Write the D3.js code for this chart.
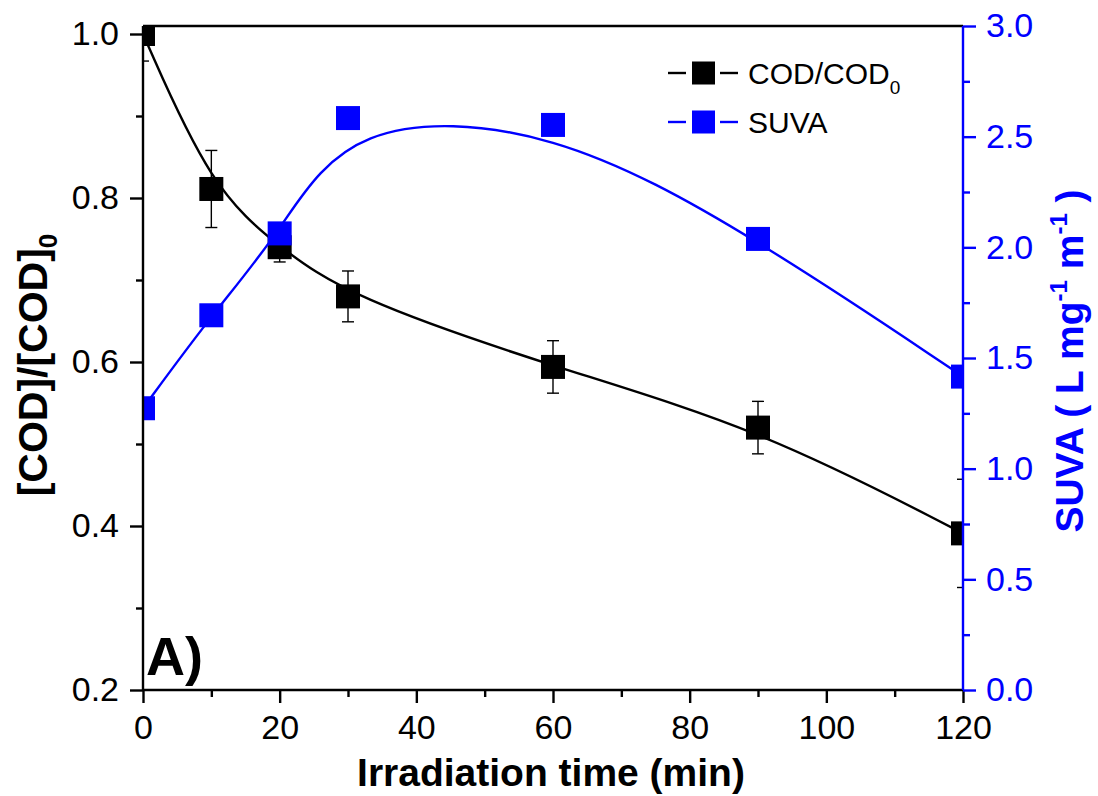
<!DOCTYPE html>
<html>
<head>
<meta charset="utf-8">
<script src="https://cdn.jsdelivr.net/npm/d3@7"></script>
<style>
  body { margin: 0; background: #fff; }
  svg { display: block; font-family: "Liberation Sans", Arial, sans-serif; }
</style>
</head>
<body>
<svg id="chart" width="1098" height="796"></svg>
<script>
// data
const times = [0, 10, 20, 30, 60, 90, 120];
const codRatio = [1.0, 0.811, 0.740, 0.680, 0.594, 0.520, 0.391];
const codErr = [0.033, 0.047, 0.018, 0.031, 0.032, 0.032, 0.066];
const suva = [1.273, 1.693, 2.063, 2.584, 2.553, 2.038, 1.416];

const xTicks = [0, 20, 40, 60, 80, 100, 120];
const xMinor = [10, 30, 50, 70, 90, 110];
const leftTicks = [0.2, 0.4, 0.6, 0.8, 1.0];
const leftMinor = [0.3, 0.5, 0.7, 0.9];
const rightTicks = [0, 0.5, 1.0, 1.5, 2.0, 2.5, 3.0];
const rightMinor = [0.25, 0.75, 1.25, 1.75, 2.25, 2.75];

const BLUE = '#0000ff';
const plot = { left: 143, right: 963, top: 26, bottom: 690 };

const svg = d3.select('#chart');

const x = d3.scaleLinear().domain([0, 120]).range([plot.left, plot.right]);
const yL = d3.scaleLinear().domain([0.2, 1.0]).range([plot.bottom, 34]);
const yR = d3.scaleLinear().domain([0, 3]).range([plot.bottom, plot.top]);

svg.append('defs').append('clipPath').attr('id', 'plotClip')
	.append('rect')
	.attr('x', plot.left).attr('y', plot.top)
	.attr('width', plot.right - plot.left).attr('height', plot.bottom - plot.top);

const codPts = times.map((t, i) => [t, codRatio[i]]);
const suvaPts = times.map((t, i) => [t, suva[i]]);

// COD series
svg.append('path')
	.attr('d', d3.line().x(d => x(d[0])).y(d => yL(d[1])).curve(d3.curveBasis)(codPts))
	.attr('fill', 'none').attr('stroke', '#000').attr('stroke-width', 2.4);

const eb = svg.append('g').attr('clip-path', 'url(#plotClip)')
	.attr('stroke', '#000').attr('stroke-width', 1.4);
times.forEach((t, i) => {
	const cx = x(t), y1 = yL(codRatio[i] - codErr[i]), y2 = yL(codRatio[i] + codErr[i]);
	eb.append('line').attr('x1', cx).attr('x2', cx).attr('y1', y1).attr('y2', y2);
	eb.append('line').attr('x1', cx - 6).attr('x2', cx + 6).attr('y1', y1).attr('y2', y1);
	eb.append('line').attr('x1', cx - 6).attr('x2', cx + 6).attr('y1', y2).attr('y2', y2);
});

const SQ = 24;
svg.append('g').attr('clip-path', 'url(#plotClip)')
	.selectAll('rect').data(codPts).enter().append('rect')
	.attr('x', d => x(d[0]) - SQ / 2).attr('y', d => yL(d[1]) - SQ / 2)
	.attr('width', SQ).attr('height', SQ).attr('fill', '#000');

// SUVA series
svg.append('path')
	.attr('d', d3.line().x(d => x(d[0])).y(d => yR(d[1])).curve(d3.curveBasis)(suvaPts))
	.attr('fill', 'none').attr('stroke', BLUE).attr('stroke-width', 2.4);

svg.append('g').attr('clip-path', 'url(#plotClip)')
	.selectAll('rect').data(suvaPts).enter().append('rect')
	.attr('x', d => x(d[0]) - SQ / 2).attr('y', d => yR(d[1]) - SQ / 2)
	.attr('width', SQ).attr('height', SQ).attr('fill', BLUE);

// axes
function styleAxis(g, color) {
	g.selectAll('.tick line').attr('stroke', color).attr('stroke-width', 2.4);
	g.selectAll('.tick text').attr('fill', color).style('font-size', '34px');
}

const gx = svg.append('g').attr('transform', `translate(0,${plot.bottom})`)
	.call(d3.axisBottom(x).tickValues(xTicks).tickSize(13).tickPadding(12).tickFormat(d3.format('d')));
gx.select('.domain').remove();
styleAxis(gx, '#000');
svg.append('g').attr('transform', `translate(0,${plot.bottom})`)
	.call(d3.axisBottom(x).tickValues(xMinor).tickSize(7).tickFormat(''))
	.call(g => g.select('.domain').remove())
	.call(g => styleAxis(g, '#000'));

const gl = svg.append('g').attr('transform', `translate(${plot.left},0)`)
	.call(d3.axisLeft(yL).tickValues(leftTicks).tickSize(13).tickPadding(11).tickFormat(d3.format('.1f')));
gl.select('.domain').remove();
styleAxis(gl, '#000');
svg.append('g').attr('transform', `translate(${plot.left},0)`)
	.call(d3.axisLeft(yL).tickValues(leftMinor).tickSize(7).tickFormat(''))
	.call(g => g.select('.domain').remove())
	.call(g => styleAxis(g, '#000'));

const gr = svg.append('g').attr('transform', `translate(${plot.right},0)`)
	.call(d3.axisRight(yR).tickValues(rightTicks).tickSize(13).tickPadding(10).tickFormat(d3.format('.1f')));
gr.select('.domain').remove();
styleAxis(gr, BLUE);
svg.append('g').attr('transform', `translate(${plot.right},0)`)
	.call(d3.axisRight(yR).tickValues(rightMinor).tickSize(7).tickFormat(''))
	.call(g => g.select('.domain').remove())
	.call(g => styleAxis(g, BLUE));

// frame lines
svg.append('line').attr('x1', plot.left).attr('x2', plot.right).attr('y1', plot.top).attr('y2', plot.top)
	.attr('stroke', '#000').attr('stroke-width', 2.4);
svg.append('line').attr('x1', plot.left).attr('x2', plot.right).attr('y1', plot.bottom).attr('y2', plot.bottom)
	.attr('stroke', '#000').attr('stroke-width', 2.4);
svg.append('line').attr('x1', plot.left).attr('x2', plot.left).attr('y1', plot.top).attr('y2', plot.bottom)
	.attr('stroke', '#000').attr('stroke-width', 2.4);
svg.append('line').attr('x1', plot.right).attr('x2', plot.right).attr('y1', plot.top).attr('y2', plot.bottom)
	.attr('stroke', BLUE).attr('stroke-width', 2.4);

// axis titles
svg.append('text')
	.attr('x', 551).attr('y', 786).attr('text-anchor', 'middle')
	.style('font-size', '39px').style('font-weight', 'bold')
	.text('Irradiation time (min)');

const lt = svg.append('text')
	.attr('transform', 'translate(47,365) rotate(-90)').attr('text-anchor', 'middle')
	.style('font-size', '41px').style('font-weight', 'bold');
lt.append('tspan').text('[COD]/[COD]');
lt.append('tspan').attr('dy', 10).style('font-size', '26px').text('0');

const rt = svg.append('text')
	.attr('transform', 'translate(1083,361) rotate(-90)').attr('text-anchor', 'middle')
	.attr('fill', BLUE).style('font-size', '39px').style('font-weight', 'bold');
rt.append('tspan').text('SUVA ( L mg');
rt.append('tspan').attr('dy', -16).style('font-size', '24px').text('-1');
rt.append('tspan').attr('dy', 16).text(' m');
rt.append('tspan').attr('dy', -16).style('font-size', '24px').text('-1');
rt.append('tspan').attr('dy', 16).text(' )');

// panel label
svg.append('text')
	.attr('x', 146).attr('y', 675)
	.style('font-size', '54px').style('font-weight', 'bold')
	.text('A)');

// legend
const legend = [
	{ label: 'COD/COD', sub: '0', color: '#000', y: 73 },
	{ label: 'SUVA', sub: null, color: BLUE, y: 122 }
];
const lg = svg.append('g');
legend.forEach(item => {
	lg.append('line').attr('x1', 668).attr('x2', 686).attr('y1', item.y).attr('y2', item.y)
		.attr('stroke', item.color).attr('stroke-width', 2.4);
	lg.append('line').attr('x1', 720).attr('x2', 738).attr('y1', item.y).attr('y2', item.y)
		.attr('stroke', item.color).attr('stroke-width', 2.4);
	lg.append('rect').attr('x', 692).attr('y', item.y - 11.5).attr('width', 23).attr('height', 23)
		.attr('fill', item.color);
	const t = lg.append('text').attr('x', 748).attr('y', item.y + 11)
		.style('font-size', '30px').attr('fill', '#000');
	t.append('tspan').text(item.label);
	if (item.sub) t.append('tspan').attr('dy', 10).style('font-size', '19px').text(item.sub);
});
</script>
</body>
</html>
